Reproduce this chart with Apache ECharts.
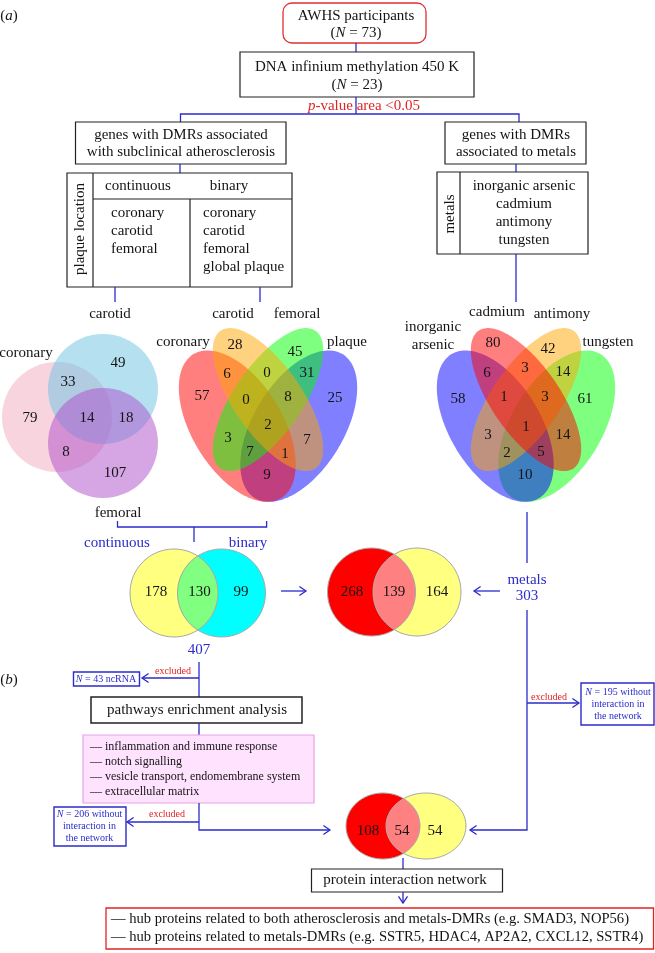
<!DOCTYPE html>
<html><head><meta charset="utf-8">
<script src="https://cdn.jsdelivr.net/npm/echarts@6/dist/echarts.min.js"></script>
<style>html,body{margin:0;padding:0;background:#fff}#c{width:655px;height:953px}</style>
</head><body><div id="c"></div>
<script>
// ================= DATA =================
const topTitles = ['AWHS participants', 'DNA infinium methylation 450 K'];
const sampleSizes = [73, 23];
const selectionRule = '{i|p}-value area <0.05';
const branchTitles = [['genes with DMRs associated', 'with subclinical atherosclerosis'], ['genes with DMRs', 'associated to metals']];
const plaqueHeader = 'plaque location';
const plaqueModels = ['continuous', 'binary'];
const continuousLocations = ['coronary', 'carotid', 'femoral'];
const binaryLocations = ['coronary', 'carotid', 'femoral', 'global plaque'];
const metalHeader = 'metals';
const metalList = ['inorganic arsenic', 'cadmium', 'antimony', 'tungsten'];

const contVennSets = ['coronary', 'carotid', 'femoral'];
// coronary, carotid, femoral, cor&car, cor&fem, car&fem, all three
const contVennCounts = [79, 49, 107, 33, 8, 18, 14];

const binVennSets = ['coronary', 'carotid', 'femoral', 'plaque'];
const binVennCounts = [57, 28, 45, 25, 6, 0, 31, 0, 8, 2, 3, 7, 7, 1, 9];

const metalVennSets = ['inorganic\narsenic', 'cadmium', 'antimony', 'tungsten'];
const metalVennCounts = [58, 80, 42, 61, 6, 3, 14, 1, 3, 1, 3, 14, 2, 5, 10];

const modelVennSets = ['continuous', 'binary'];
const modelVennCounts = [178, 130, 99];
const atheroTotal = 407;
const atheroMetalCounts = [268, 139, 164];
const metalsTotal = 303;
const excludedLabel = 'excluded';
const excludedNcRNA = 43;
const excludedMetals = 195;
const excludedAthero = 206;
const pathwayTitle = 'pathways enrichment analysis';
const pathways = ['inflammation and immune response', 'notch signalling', 'vesicle transport, endomembrane system', 'extracellular matrix'];
const networkCounts = [108, 54, 54];
const networkTitle = 'protein interaction network';
const hubFindings = [
  'hub proteins related to both atherosclerosis and metals-DMRs (e.g. SMAD3, NOP56)',
  'hub proteins related to metals-DMRs (e.g. SSTR5, HDAC4, AP2A2, CXCL12, SSTR4)'
];
const panelLabels = ['a', 'b'];

// ================= LAYOUT (positions / styles) =================
const FONT = '"Liberation Serif", "Times New Roman", serif';
const BLUE = '#2b2bcc';
const RED = '#e02424';
const INK = '#141414';

const contVennPos = [[30,418],[118,363],[115,473],[68,382],[66,452],[126,418],[87,418]];
const contVennLabelPos = [[26,353],[110,314],[118,513]];
const contCircles = [[57,417,55],[103,389,55],[103,443,55]];
const contFills = ['rgba(240,160,185,0.45)','rgba(105,193,225,0.5)','rgba(173,77,201,0.5)'];

const binVennPos = [[202,396],[235,345],[295,352],[335,398],[227,374],[267,373],[307,373],[246,400],[288,397],[268,425],[228,438],[307,440],[250,452],[285,454],[267,475]];
const binVennLabelPos = [[183,342],[233,314],[297,314],[347,342]];
const metalVennPos = [[458,399],[493,343],[548,349],[585,399],[487,373],[525,368],[563,372],[504,397],[545,397],[526,427],[488,435],[563,435],[507,453],[541,452],[525,475]];
const metalVennLabelPos = [[433,336],[497,312],[562,314],[608,342]];

// VennDiagram quad layout in unit space: cx, cy, a, b, rotation(deg)
const quadShapes = [[0.35,0.47,0.35,0.20,135],[0.50,0.57,0.35,0.15,135],[0.50,0.57,0.35,0.15,45],[0.65,0.47,0.35,0.20,45]];
const binQuad = {X0:165.5, Y0:551, Sx:205, Sy:265.6, order:[3,0,2,1], fills:['rgba(255,0,0,0.5)','rgba(255,165,0,0.5)','rgba(0,255,0,0.5)','rgba(0,0,255,0.5)']};
const metalQuad = {X0:423.5, Y0:551, Sx:205, Sy:265.6, order:[3,0,2,1], fills:['rgba(0,0,255,0.5)','rgba(255,0,0,0.5)','rgba(255,165,0,0.5)','rgba(0,255,0,0.5)']};

const twoSets = [
  {e:[[174,593,44,44],[221.5,593,44,44]], fills:['#ffff80','#00ffff'], lens:'#80ff80', pos:[[156,592],[199.5,592],[241,592]], counts: modelVennCounts},
  {e:[[371.5,592,44,44],[417,592,44,44]], fills:['#ff0000','#ffff80'], lens:'#ff8080', pos:[[352,592],[394,592],[437,592]], counts: atheroMetalCounts},
  {e:[[383,826,37,33],[426,826,40,33]], fills:['#ff0000','#ffff80'], lens:'#ff8080', pos:[[368,831],[402,831],[435,831]], counts: networkCounts}
];

// ================= HELPERS =================
function fnt(size, italic) { return (italic ? 'italic ' : '') + size + 'px ' + FONT; }
function txt(api, x, y, str, o) {
  o = o || {};
  const size = o.size || 15, color = o.color || INK, lh = o.lh || Math.round(size * 1.2);
  const p = api.coord([x, y]);
  return {type:'text', x:p[0], y:p[1], rotation:o.rot || 0, z2: 10,
    style:{text:str, font:fnt(size, o.italic), fill:color, align:o.align || 'center', verticalAlign:'middle', lineHeight:lh,
      rich:{i:{font:fnt(size, true), fill:color, lineHeight:lh}}}};
}
function pl(api, pts, color, lw) {
  return {type:'polyline', shape:{points:pts.map(q => api.coord(q))}, style:{stroke:color || BLUE, lineWidth:lw || 1.3, fill:null}};
}
function arrow(api, pts, color) {
  const els = [pl(api, pts, color)];
  const a = api.coord(pts[pts.length - 1]), b = api.coord(pts[pts.length - 2]);
  const ang = Math.atan2(a[1] - b[1], a[0] - b[0]), L = 8, w = 0.6;
  els.push({type:'polyline', shape:{points:[[a[0]-L*Math.cos(ang-w), a[1]-L*Math.sin(ang-w)], a, [a[0]-L*Math.cos(ang+w), a[1]-L*Math.sin(ang+w)]]},
    style:{stroke:color || BLUE, lineWidth:1.3, fill:null}});
  return els;
}
function box(api, x0, y0, x1, y1, o) {
  o = o || {};
  const a = api.coord([x0, y0]), b = api.coord([x1, y1]);
  return {type:'rect', shape:{x:a[0], y:a[1], width:b[0]-a[0], height:b[1]-a[1], r:o.r || 0},
    style:{stroke:o.stroke || '#222', fill:o.fill || '#fff', lineWidth:o.lw || 1.2}};
}
function ellPts(cx, cy, rx, ry, rot, n) {
  const pts = [];
  for (let k = 0; k < n; k++) {
    const t = 2 * Math.PI * k / n, x = rx * Math.cos(t), y = ry * Math.sin(t);
    pts.push([cx + x * Math.cos(rot) - y * Math.sin(rot), cy + x * Math.sin(rot) + y * Math.cos(rot)]);
  }
  return pts;
}
function inEll(e, p) { const dx = (p[0]-e[0])/e[2], dy = (p[1]-e[1])/e[3]; return dx*dx + dy*dy <= 1.0001; }

// ================= RENDERERS =================
function renderVenns(params, api) {
  const ch = [];
  contCircles.forEach((c, i) => {
    const p = api.coord([c[0], c[1]]);
    ch.push({type:'circle', shape:{cx:p[0], cy:p[1], r:c[2]}, style:{fill:contFills[i]}});
  });
  [binQuad, metalQuad].forEach(q => {
    q.order.forEach(i => {
      const s = quadShapes[i];
      const pts = ellPts(s[0], s[1], s[2], s[3], s[4] * Math.PI / 180, 160).map(u => api.coord([q.X0 + u[0]*q.Sx, q.Y0 - u[1]*q.Sy]));
      ch.push({type:'polygon', shape:{points:pts}, style:{fill:q.fills[i]}});
    });
  });
  twoSets.forEach(v => {
    const E = v.e.map(e => { const p = api.coord([e[0], e[1]]); return [p[0], p[1], e[2], e[3]]; });
    E.forEach((e, i) => ch.push({type:'ellipse', shape:{cx:e[0], cy:e[1], rx:e[2], ry:e[3]}, style:{fill:v.fills[i]}}));
    let pts = ellPts(E[0][0], E[0][1], E[0][2], E[0][3], 0, 240).filter(p => inEll(E[1], p))
      .concat(ellPts(E[1][0], E[1][1], E[1][2], E[1][3], 0, 240).filter(p => inEll(E[0], p)));
    const cx = pts.reduce((s, p) => s + p[0], 0) / pts.length, cy = pts.reduce((s, p) => s + p[1], 0) / pts.length;
    pts.sort((a, b) => Math.atan2(a[1]-cy, a[0]-cx) - Math.atan2(b[1]-cy, b[0]-cx));
    ch.push({type:'polygon', shape:{points:pts}, style:{fill:v.lens}});
    E.forEach(e => ch.push({type:'ellipse', shape:{cx:e[0], cy:e[1], rx:e[2], ry:e[3]}, style:{fill:null, stroke:'#a8a8a8', lineWidth:1}}));
  });
  return {type:'group', children:ch};
}

function renderFlow(params, api) {
  const ch = [];
  const add = el => Array.isArray(el) ? el.forEach(e => ch.push(e)) : ch.push(el);
  add(txt(api, 9, 16, '({i|' + panelLabels[0] + '})'));
  add(txt(api, 9, 680, '({i|' + panelLabels[1] + '})'));
  add(box(api, 283, 3, 426, 43, {stroke:'#e03030', r:9, lw:1.3}));
  add(txt(api, 356, 16, topTitles[0]));
  add(txt(api, 356, 33, '({i|N} = ' + sampleSizes[0] + ')'));
  add(pl(api, [[356,43],[356,52]]));
  add(box(api, 240, 52, 474, 97));
  add(txt(api, 357, 67, topTitles[1]));
  add(txt(api, 357, 85, '({i|N} = ' + sampleSizes[1] + ')'));
  add(pl(api, [[356,97],[356,114]]));
  add(txt(api, 364, 106, selectionRule, {color:RED}));
  add(pl(api, [[180.5,122],[180.5,114],[519,114],[519,122]]));
  add(box(api, 75.5, 122, 286, 164));
  add(txt(api, 181, 135, branchTitles[0][0]));
  add(txt(api, 181, 152, branchTitles[0][1]));
  add(box(api, 445, 122, 586, 164));
  add(txt(api, 516, 135, branchTitles[1][0]));
  add(txt(api, 516, 152, branchTitles[1][1]));
  add(pl(api, [[180,164],[180,173]]));
  add(pl(api, [[516,164],[516,172]]));
  add(box(api, 67, 173, 292, 287));
  add(pl(api, [[93,173],[93,287]], '#222', 1.2));
  add(pl(api, [[93,199],[292,199]], '#222', 1.2));
  add(pl(api, [[190,199],[190,287]], '#222', 1.2));
  add(txt(api, 80, 229, plaqueHeader, {rot:Math.PI/2}));
  add(txt(api, 138, 186, plaqueModels[0]));
  add(txt(api, 229, 186, plaqueModels[1]));
  continuousLocations.forEach((s, i) => add(txt(api, 111, 213 + 18*i, s, {align:'left'})));
  binaryLocations.forEach((s, i) => add(txt(api, 203, 213 + 18*i, s, {align:'left'})));
  add(pl(api, [[115,287],[115,302]]));
  add(pl(api, [[260,287],[260,302]]));
  add(box(api, 437, 172, 588, 254));
  add(pl(api, [[460,172],[460,254]], '#222', 1.2));
  add(txt(api, 450, 214, metalHeader, {rot:Math.PI/2}));
  metalList.forEach((s, i) => add(txt(api, 524, 186 + 18*i, s)));
  add(pl(api, [[516,254],[516,302]]));
  contVennSets.forEach((s, i) => add(txt(api, contVennLabelPos[i][0], contVennLabelPos[i][1], s)));
  binVennSets.forEach((s, i) => add(txt(api, binVennLabelPos[i][0], binVennLabelPos[i][1], s)));
  metalVennSets.forEach((s, i) => add(txt(api, metalVennLabelPos[i][0], metalVennLabelPos[i][1], s, {lh:18})));
  add(pl(api, [[117.5,521],[117.5,527],[266.6,527],[266.6,521]]));
  add(pl(api, [[194,527],[194,542]]));
  add(txt(api, 117, 543, modelVennSets[0], {color:BLUE}));
  add(txt(api, 248, 543, modelVennSets[1], {color:BLUE}));
  add(arrow(api, [[281,591],[306,591]]));
  add(arrow(api, [[500,591],[474,591]]));
  add(txt(api, 527, 580, metalHeader, {color:BLUE}));
  add(txt(api, 527, 596, String(metalsTotal), {color:BLUE}));
  add(pl(api, [[527,512],[527,563]]));
  add(txt(api, 199, 650, String(atheroTotal), {color:BLUE}));
  add(pl(api, [[199,662],[199,697]]));
  add(arrow(api, [[199,678],[142,678]]));
  add(txt(api, 173, 671, excludedLabel, {color:RED, size:10}));
  add(box(api, 73.5, 672, 139.5, 686, {stroke:BLUE, lw:1.4}));
  add(txt(api, 106, 679, '{i|N} = ' + excludedNcRNA + ' ncRNA', {color:BLUE, size:10}));
  add(box(api, 91, 697, 302, 723, {lw:1.5}));
  add(txt(api, 197, 710, pathwayTitle));
  add(pl(api, [[199,723],[199,735]]));
  add(box(api, 83, 735, 314, 803, {stroke:'#e6a2e6', fill:'#fee2fe', lw:1.2}));
  pathways.forEach((s, i) => add(txt(api, 90, 747 + 15*i, '\u2014 ' + s, {align:'left', size:12})));
  add(arrow(api, [[199,803],[199,830],[330,830]]));
  add(arrow(api, [[199,822],[127,822]]));
  add(txt(api, 167, 814, excludedLabel, {color:RED, size:10}));
  add(box(api, 54, 807, 126, 846, {stroke:BLUE, lw:1.4}));
  add(txt(api, 89.5, 826, '{i|N} = ' + excludedAthero + ' without\ninteraction in\nthe network', {color:BLUE, size:10, lh:12}));
  add(arrow(api, [[527,610],[527,830],[470,830]]));
  add(arrow(api, [[527,703],[579,703]]));
  add(txt(api, 549, 697, excludedLabel, {color:RED, size:10}));
  add(box(api, 581, 683, 654, 725, {stroke:BLUE, lw:1.4}));
  add(txt(api, 618, 704, '{i|N} = ' + excludedMetals + ' without\ninteraction in\nthe network', {color:BLUE, size:10, lh:12}));
  add(pl(api, [[403,858],[403,869]]));
  add(box(api, 311.5, 869, 502.5, 892));
  add(txt(api, 405, 880, networkTitle));
  add(arrow(api, [[403,892],[403,903]]));
  add(box(api, 106, 908, 653.5, 949, {stroke:RED, lw:1.3}));
  hubFindings.forEach((s, i) => add(txt(api, 111, 919 + 18*i, '\u2014 ' + s, {align:'left', size:14.6})));
  return {type:'group', children:ch};
}

function countSeries(name, counts, pos, size) {
  return {
    type:'custom', name, coordinateSystem:'cartesian2d', z:5, silent:true, clip:false,
    data: counts.map((v, i) => [pos[i][0], pos[i][1], v]),
    renderItem: (params, api) => txt(api, api.value(0), api.value(1), String(api.value(2)), {size:size || 15})
  };
}

const chart = echarts.init(document.getElementById('c'), null, {renderer:'canvas'});
chart.setOption({
  animation:false,
  backgroundColor:'#ffffff',
  grid:{left:0, right:0, top:0, bottom:0},
  xAxis:{type:'value', min:0, max:655, show:false},
  yAxis:{type:'value', min:0, max:953, inverse:true, show:false},
  series:[
    {type:'custom', name:'venn shapes', coordinateSystem:'cartesian2d', z:1, silent:true, clip:false, data:[[0,0]], renderItem:renderVenns},
    {type:'custom', name:'flow', coordinateSystem:'cartesian2d', z:3, silent:true, clip:false, data:[[0,0]], renderItem:renderFlow},
    countSeries('continuous venn', contVennCounts, contVennPos),
    countSeries('binary venn', binVennCounts, binVennPos),
    countSeries('metal venn', metalVennCounts, metalVennPos),
    countSeries('model venn', twoSets[0].counts, twoSets[0].pos),
    countSeries('athero-metal venn', twoSets[1].counts, twoSets[1].pos),
    countSeries('network venn', twoSets[2].counts, twoSets[2].pos)
  ]
});
</script>
</body></html>
